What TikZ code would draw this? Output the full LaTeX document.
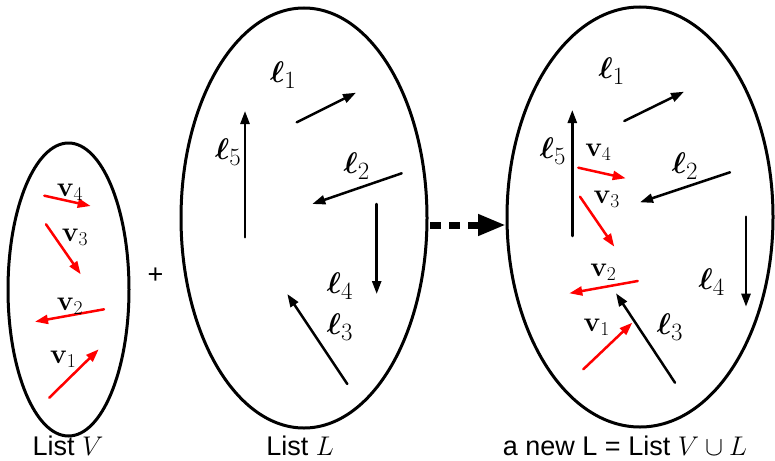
\RequirePackage{fix-cm}
\documentclass[tikz,border=0pt]{standalone}
\usepackage[no-math]{fontspec}
\setmainfont{Liberation Sans}
\usepackage{bm}
\usetikzlibrary{arrows.meta}

\begin{document}
\begin{tikzpicture}[x=1pt, y=-1pt, line width=2.5pt, line cap=round, line join=round,
  vec/.style={-{Triangle[length=13pt,width=9pt]}},
  redvec/.style={vec, draw=red, fill=red},
  lab/.style={font=\fontsize{28}{30}\selectfont, inner sep=0pt},
  elllab/.style={font=\Huge, inner sep=0pt, scale=1.2},
  titlelab/.style={font=\fontsize{27}{29}\selectfont, inner sep=0pt, anchor=base}]

  %% ════ 三个椭圆 ════
  \draw[line width=3pt] (68.5,289.5) ellipse (60.5 and 146.5);
  \draw[line width=3pt] (304.0,218.0) ellipse (123.0 and 210.0);
  \draw[line width=3pt] (640.0,217.0) ellipse (133.0 and 210.0);

  %% ════ List V ════
  \draw[redvec] (44.3,195.7) -- (90.7,206.0);
  \draw[redvec] (46.0,224.3) -- (80.7,274.3);
  \draw[redvec] (104.0,309.3) -- (35.0,321.7);
  \draw[redvec] (49.3,397.7) -- (98.7,349.3);
  \node[lab] (v4) at (70.0,192.0) {$\mathbf{v}_4$};
  \node[lab] (v3) at (75.0,237.0) {$\mathbf{v}_3$};
  \node[lab] (v2) at (70.0,306.0) {$\mathbf{v}_2$};
  \node[lab] (v1) at (63.3,359.0) {$\mathbf{v}_1$};

  \node[titlelab, anchor=center] (plus) at (155.5,276.0) {+};

  %% ════ List L ════
  \draw[vec] (296.7,122.3) -- (356.0,92.7);
  \draw[vec] (245.0,237.3) -- (245.0,111.0);
  \draw[vec] (401.7,173.3) -- (312.3,204.0);
  \draw[vec] (376.7,204.0) -- (376.7,294.0);
  \draw[vec] (347.3,384.0) -- (287.3,294.0);
  \node[elllab] (l1) at (283.3,75.0) {$\bm{\ell}_1$};
  \node[elllab] (l5) at (228.3,152.0) {$\bm{\ell}_5$};
  \node[elllab] (l2) at (356.7,166.0) {$\bm{\ell}_2$};
  \node[elllab] (l4) at (340.0,286.0) {$\bm{\ell}_4$};
  \node[elllab] (l3) at (340.0,327.5) {$\bm{\ell}_3$};

  %% ════ 虚线箭头 ════
  \draw[line width=7pt, line cap=butt, dash pattern=on 11pt off 8pt,
        -{Triangle[length=28pt,width=20pt]}] (430.0,225.0) -- (506.0,225.0);

  %% ════ new L ════
  \draw[vec] (624.3,121.0) -- (684.0,91.7);
  \draw[vec] (572.3,236.0) -- (572.3,110.0);
  \draw[vec] (730.0,172.3) -- (640.0,202.3);
  \draw[vec] (746.0,216.7) -- (746.0,306.7);
  \draw[vec] (675.0,382.7) -- (616.0,293.3);
  \draw[redvec] (578.3,167.7) -- (625.7,178.3);
  \draw[redvec] (580.0,196.7) -- (614.3,246.7);
  \draw[redvec] (637.7,281.0) -- (569.3,293.3);
  \draw[redvec] (583.3,369.3) -- (632.3,322.7);
  \node[elllab] (nl1) at (611.7,71.0) {$\bm{\ell}_1$};
  \node[elllab] (nl5) at (553.0,151.0) {$\bm{\ell}_5$};
  \node[elllab] (nl2) at (685.0,166.0) {$\bm{\ell}_2$};
  \node[elllab] (nl4) at (711.7,282.5) {$\bm{\ell}_4$};
  \node[elllab] (nl3) at (670.0,327.5) {$\bm{\ell}_3$};
  \node[lab] (nv4) at (598.3,152.5) {$\mathbf{v}_4$};
  \node[lab] (nv3) at (606.7,199.0) {$\mathbf{v}_3$};
  \node[lab] (nv2) at (603.3,272.5) {$\mathbf{v}_2$};
  \node[lab] (nv1) at (596.7,327.5) {$\mathbf{v}_1$};

  %% ════ 标题 ════
  \node[titlelab] (titleV) at (68.0,455.0) {List $V$};
  \node[titlelab] (titleL) at (300.0,455.0) {List $L$};
  \node[titlelab] (titleN) at (625.0,455.0) {a new L = List $V\cup L$};

  \pgfresetboundingbox
  \path[use as bounding box] (0,0) rectangle (775,460);
\end{tikzpicture}
\end{document}
